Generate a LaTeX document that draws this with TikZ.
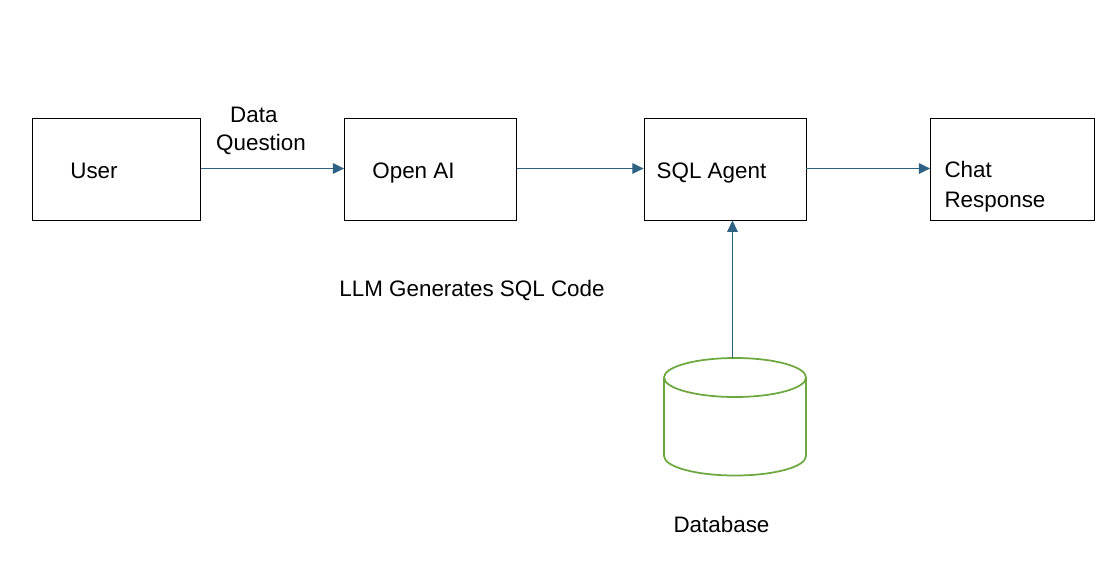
\documentclass[tikz,border=0pt]{standalone}
\usepackage{fontspec}
\setmainfont{Liberation Sans}
\usetikzlibrary{arrows.meta}
\definecolor{arrowc}{RGB}{46,98,130}
\definecolor{dbgreen}{RGB}{108,168,62}
\tikzset{x=0.75pt,y=-0.75pt,
 flowbox/.style={draw=black,line width=0.6pt,fill=white,inner sep=0pt},
 conn/.style={draw=arrowc,line width=0.8pt,-{Triangle[length=8.5pt,width=8pt]}},
 lbl/.style={font=\fontsize{16.8pt}{21.5pt}\selectfont,text=black,inner sep=0pt,align=center}}
\begin{document}
\begin{tikzpicture}
\useasboundingbox (0,0) rectangle (1118,572);
\fill[white] (0,0) rectangle (1118,572);
\node[flowbox,minimum width=126pt,minimum height=76pt] (user) at (116.5,169.5) {};
\node[flowbox,minimum width=129pt,minimum height=76pt] (openai) at (430.5,169.5) {};
\node[flowbox,minimum width=121.5pt,minimum height=76pt] (agent) at (725,169.5) {};
\node[flowbox,minimum width=123pt,minimum height=76pt] (chat) at (1012.5,169.5) {};
\node[lbl] (tuser) at (94,171) {User};
\node[lbl] (topenai) at (413.5,172.5) {Open AI};
\node[lbl] (tagent) at (711.5,172.5) {SQL Agent};
\node[lbl,align=left,font=\fontsize{16.8pt}{22.2pt}\selectfont] (tchat) at (995,187) {Chat\\Response};
\node[lbl,align=left] (tdq) at (261,131) {\hspace*{10.5pt}Data\\Question};
\node[lbl] (tllm) at (472,290) {LLM Generates SQL Code};
\node[lbl] (tdb) at (721.5,524) {Database};
\coordinate (dbtop) at (732.5,358);
\draw[draw=dbgreen,line width=1.3pt,fill=white] (664,377) -- (664,456) arc[start angle=180,end angle=0,x radius=71,y radius=19.5] -- (806,377);
\draw[draw=dbgreen,line width=1.3pt,fill=white] (735,377.5) ellipse[x radius=71,y radius=19.5];
\draw[conn] ([yshift=0.75pt]user.east) -- ([yshift=0.75pt]openai.west);
\draw[conn] ([yshift=0.75pt]openai.east) -- ([yshift=0.75pt]agent.west);
\draw[conn] ([yshift=0.75pt]agent.east) -- ([yshift=0.75pt]chat.west);
\draw[conn] (dbtop) -- (dbtop |- agent.south);
\end{tikzpicture}
\end{document}
